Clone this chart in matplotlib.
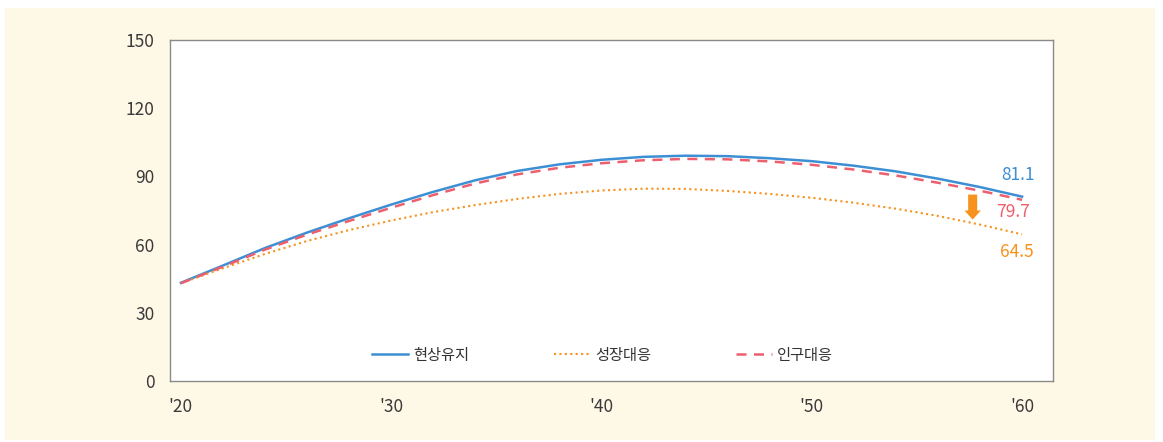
import matplotlib
matplotlib.use("Agg")
import matplotlib.pyplot as plt
from matplotlib.patches import Rectangle, FancyArrow

plt.rcParams['font.family'] = ['Noto Sans CJK KR', 'DejaVu Sans']
plt.rcParams['font.weight'] = 'light'

years = [2020, 2022, 2024, 2026, 2028, 2030, 2032, 2034, 2036, 2038, 2040,
         2042, 2044, 2046, 2048, 2050, 2052, 2054, 2056, 2058, 2060]
status_quo = [43.2, 50.8, 58.5, 65.3, 71.6, 77.6, 83.2, 88.3, 92.4, 95.3, 97.3,
              98.6, 99.1, 98.9, 98.0, 96.7, 94.7, 92.2, 89.0, 85.3, 81.1]
growth = [43.0, 49.6, 55.9, 61.6, 66.4, 70.6, 74.3, 77.4, 80.1, 82.3, 83.8,
          84.6, 84.5, 83.6, 82.3, 80.6, 78.4, 75.8, 72.6, 68.8, 64.5]
population = [43.0, 50.3, 57.8, 64.4, 70.4, 76.2, 81.8, 86.9, 90.9, 93.8, 95.8,
              97.1, 97.7, 97.5, 96.6, 95.1, 93.0, 90.4, 87.2, 83.7, 79.7]
series_names = ['현상유지', '성장대응', '인구대응']
xticks = [2020, 2030, 2040, 2050, 2060]
xtick_labels = ["'20", "'30", "'40", "'50", "'60"]
yticks = [0, 30, 60, 90, 120, 150]

blue = '#3d8fd4'
orange = '#f7921e'
red = '#ee5f6e'

fig = plt.figure(figsize=(11.63, 4.42), dpi=100)
fig.patch.set_facecolor('white')
fig.patches.append(Rectangle((5 / 1163, 1 - 440 / 442), 1150 / 1163, 432 / 442,
                             transform=fig.transFigure, facecolor='#fef8e6',
                             edgecolor='none', zorder=-10))

ax = fig.add_axes([170 / 1163, 1 - 381 / 442, 883 / 1163, 341 / 442])
ax.set_zorder(5)
ax.set_facecolor('white')

ax.plot(years, status_quo, color=blue, lw=1.8, label=series_names[0])
ax.plot(years, growth, color=orange, lw=1.5, linestyle=(0, (1, 1.6)), label=series_names[1])
ax.plot(years, population, color=red, lw=1.8, linestyle=(0, (4, 3)), label=series_names[2])

ax.set_xlim(2019.48, 2061.47)
ax.set_ylim(0, 150)
ax.set_xticks(xticks)
ax.set_xticklabels(xtick_labels)
ax.set_yticks(yticks)
ax.tick_params(axis='both', length=0, labelsize=12.5, labelcolor='#3a3a3a')
ax.tick_params(axis='y', pad=11)
ax.tick_params(axis='x', pad=12)
for s in ax.spines.values():
    s.set_color('#8a8a8a')
    s.set_linewidth(1.0)

# end labels
ax.text(years[-1] - 0.2, status_quo[-1] + 9.7, f'{status_quo[-1]}', color=blue,
        fontsize=12.5, ha='center', va='center')
ax.text(years[-1] - 0.45, population[-1] - 5.3, f'{population[-1]}', color=red,
        fontsize=12.5, ha='center', va='center')
ax.text(years[-1] - 0.25, growth[-1] - 7.7, f'{growth[-1]}', color=orange,
        fontsize=12.5, ha='center', va='center')

# arrow
ax.add_patch(FancyArrow(2057.65, 82.0, 0, -11.0, width=0.43, head_width=0.78,
                        head_length=4.0, length_includes_head=True,
                        color=orange, lw=0))

leg = ax.legend(loc='lower center', bbox_to_anchor=(0.49, 0.01), ncol=3,
                frameon=False, fontsize=11, handlelength=2.35, handletextpad=0.3,
                columnspacing=5.6)
for t in leg.get_texts():
    t.set_color('#333333')

fig.savefig('out.png', dpi=100, facecolor=fig.get_facecolor())
